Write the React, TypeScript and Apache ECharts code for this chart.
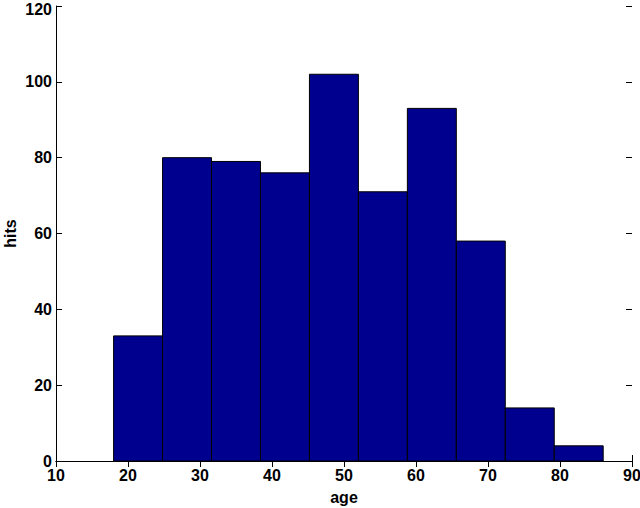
import React, { useEffect, useRef } from "react";
import * as echarts from "echarts";

const binEdges = [18, 24.8, 31.6, 38.4, 45.2, 52, 58.8, 65.6, 72.4, 79.2, 86];
const counts = [33, 80, 79, 76, 102, 71, 93, 58, 14, 4];
const xTicks = [10, 20, 30, 40, 50, 60, 70, 80, 90];
const yTicks = [0, 20, 40, 60, 80, 100, 120];

const FONT = "Liberation Sans, Arial, Helvetica, sans-serif";

export default function App() {
  const ref = useRef<HTMLDivElement>(null);
  useEffect(() => {
    if (!ref.current) return;
    const chart = echarts.init(ref.current, undefined, { renderer: "svg" });
    const data = counts.map((c, i) => [binEdges[i], binEdges[i + 1], c]);
    const labelStyle = { color: "#000", fontFamily: FONT, fontWeight: "bold" as const, fontSize: 16 };
    const yMax = yTicks[yTicks.length - 1];
    chart.setOption({
      animation: false,
      backgroundColor: "#fff",
      grid: { left: 56, right: 8, top: 6, bottom: 47, containLabel: false, outerBoundsMode: "none" },
      xAxis: [
        {
          type: "value",
          min: xTicks[0],
          max: xTicks[xTicks.length - 1],
          interval: 10,
          position: "bottom",
          name: "age",
          nameLocation: "middle",
          nameGap: 28,
          nameMoveOverlap: false,
          nameTextStyle: labelStyle,
          axisLine: { show: true, lineStyle: { color: "#000", width: 1 } },
          axisTick: { show: true, inside: true, length: 6, lineStyle: { color: "#000" } },
          axisLabel: { ...labelStyle, margin: 6 },
          splitLine: { show: false },
        },
        {
          type: "value",
          min: xTicks[0],
          max: xTicks[xTicks.length - 1],
          interval: 10,
          position: "top",
          axisLine: { show: true, lineStyle: { color: "#000", width: 1 } },
          axisTick: { show: true, inside: true, length: 6, lineStyle: { color: "#000" } },
          axisLabel: { show: false },
          splitLine: { show: false },
        },
      ],
      yAxis: [
        {
          type: "value",
          min: yTicks[0],
          max: yMax,
          interval: 20,
          position: "left",
          name: "hits",
          nameLocation: "middle",
          nameGap: 38,
          nameMoveOverlap: false,
          nameTextStyle: labelStyle,
          axisLine: { show: true, lineStyle: { color: "#000", width: 1 } },
          axisTick: { show: true, inside: true, length: 6, lineStyle: { color: "#000" } },
          axisLabel: {
            ...labelStyle,
            margin: 4,
            formatter: (v: number) => (v === yMax ? `{top|${v}}` : `${v}`),
            rich: { top: { ...labelStyle, padding: [6, 0, 0, 0] } },
          },
          splitLine: { show: false },
        },
        {
          type: "value",
          min: yTicks[0],
          max: yMax,
          interval: 20,
          position: "right",
          axisLine: { show: false },
          axisTick: { show: true, inside: true, length: 6, lineStyle: { color: "#000" } },
          axisLabel: { show: false },
          splitLine: { show: false },
        },
      ],
      series: [
        {
          type: "custom",
          xAxisIndex: 0,
          yAxisIndex: 0,
          data,
          z: 5,
          renderItem: (params: any, api: any) => {
            const x0 = api.value(0);
            const x1 = api.value(1);
            const v = api.value(2);
            const p0 = api.coord([x0, v]);
            const p1 = api.coord([x1, 0]);
            return {
              type: "rect",
              shape: { x: p0[0], y: p0[1], width: p1[0] - p0[0], height: p1[1] - p0[1] },
              style: { fill: "#00008F", stroke: "#000", lineWidth: 1 },
            };
          },
        },
      ],
    });
    return () => chart.dispose();
  }, []);
  return <div ref={ref} style={{ width: 640, height: 508, position: "absolute", left: 0, top: 0 }} />;
}
